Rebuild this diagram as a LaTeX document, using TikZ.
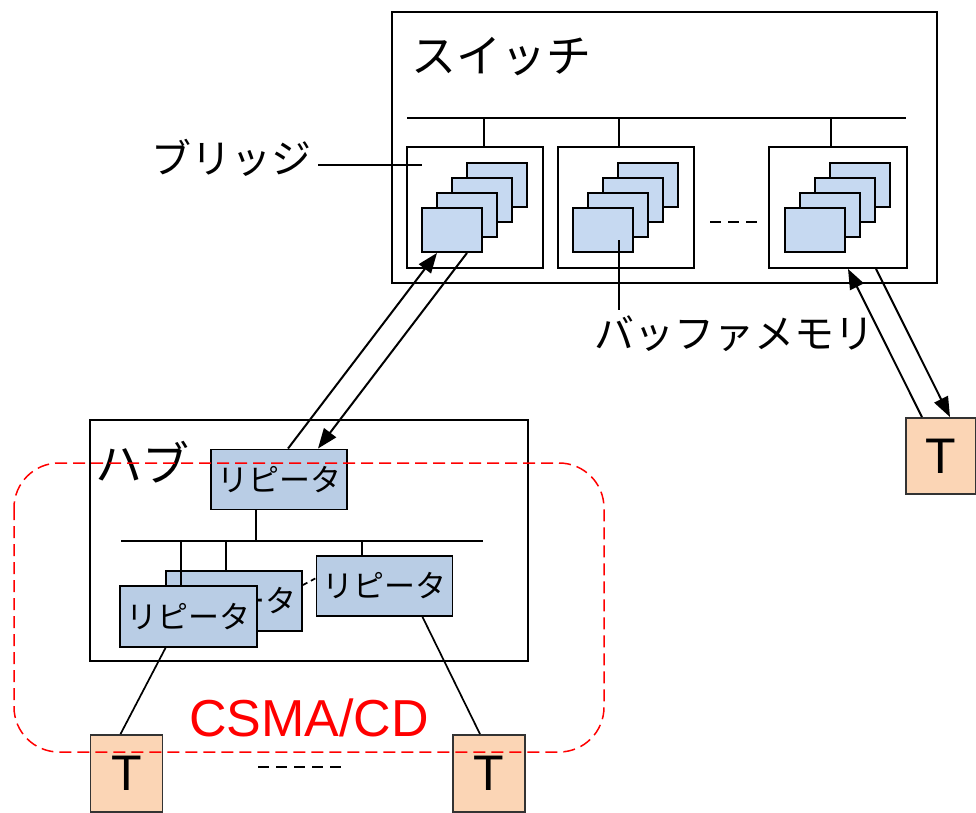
\documentclass[tikz,border=0pt]{standalone}
\usepackage{fontspec}
\setmainfont{Liberation Sans}
\newfontfamily\jp{Noto Sans CJK JP}
\usetikzlibrary{arrows.meta}
\definecolor{bufblue}{HTML}{C6D9F1}
\definecolor{repblue}{HTML}{B9CDE5}
\definecolor{termfill}{HTML}{FBD5B5}
\tikzset{
  frame/.style={draw=black, line width=1.9pt, fill=white, inner sep=0pt},
  bufbox/.style={draw=black, line width=1.9pt, fill=bufblue, inner sep=0pt, minimum width=60pt, minimum height=44pt},
  repbox/.style={draw=black, line width=1.9pt, fill=repblue, inner sep=0pt, minimum width=136pt, minimum height=60pt, font=\jp\fontsize{31}{31}\selectfont},
  termbox/.style={draw=black!80, line width=1.9pt, fill=termfill, inner sep=0pt, minimum width=72pt, minimum height=77pt, font=\fontsize{50}{50}\selectfont},
  wire/.style={line width=1.7pt},
  arr/.style={line width=2pt, -{Triangle[length=20pt,width=15pt]}},
  dots/.style={line width=1.7pt, dash pattern=on 11pt off 7pt},
  bigjp/.style={font=\jp\fontsize{45}{45}\selectfont, inner sep=0pt},
}
\begin{document}
\begin{tikzpicture}[x=1pt,y=-1pt]
\clip (0,0) rectangle (976,812);
\fill[white] (0,0) rectangle (976,812);

% ---- switch ----
\node[frame, minimum width=545pt, minimum height=271pt] (sw) at (664.5,147.5) {};
\node[bigjp, anchor=west] (swlabel) at (411,57) {スイッチ};
\coordinate (busL) at (407,118);
\coordinate (busR) at (906,118);
\draw[wire] (busL) -- (busR);

\foreach \n/\cx/\w in {br1/475/136, br2/626/136, br3/838/138}{
  \node[frame, minimum width=\w pt, minimum height=121pt] (\n) at (\cx,207.5) {};
}
\draw[wire] ([xshift=9pt]br1.north) -- ++(0,-29);
\draw[wire] ([xshift=-7pt]br2.north) -- ++(0,-29);
\draw[wire] ([xshift=-7pt]br3.north) -- ++(0,-29);

% stacked buffers inside each bridge
\foreach \g/\fx in {A/422, B/573, C/785}{
  \foreach \k in {3,2,1,0}{
    \node[bufbox] (buf\g\k) at ({\fx+30+15*\k},{230-15*\k}) {};
  }
}

% bridge label
\node[bigjp, font=\jp\fontsize{40}{40}\selectfont, anchor=east] (brlabel) at (312,158) {ブリッジ};
\coordinate (brtip) at (422,165);
\draw[wire] (318,165) -- (brtip);

% gap between bridges
\coordinate (gapL) at (710,222);
\coordinate (gapR) at (757,222);
\draw[dots] (gapL) -- (gapR);

% buffer memory label
\node[bigjp, font=\jp\fontsize{40}{40}\selectfont, anchor=north west] (memlabel) at (594,316) {バッファメモリ};
\draw[wire] (619,240) -- (619,310);

% ---- hub ----
\node[frame, minimum width=438pt, minimum height=241pt] (hub) at (309,540.5) {};
\node[bigjp, font=\jp\fontsize{47}{47}\selectfont, anchor=west] (hublabel) at (95,462) {ハブ};
\node[repbox] (rep0) at (279,479.5) {リピータ};
\coordinate (hbusL) at (121,541);
\coordinate (hbusR) at (483,541);
\draw[wire] (hbusL) -- (hbusR);
\draw[wire] ([xshift=-23pt]rep0.south) -- (256,541);

\node[repbox] (rep2) at (234,601) {リピータ};
\draw[wire] (226,541) -- (226,571);
\draw[wire] (181,541) -- (181,590);
\node[repbox] (rep3) at (384.5,586) {リピータ};
\draw[wire] (362,541) -- (rep3.north -| 362,0);
\draw[wire, dash pattern=on 5pt off 4pt] (rep2.east |- 0,585) -- (318,577);
\node[repbox, minimum width=137pt, minimum height=61pt] (rep1) at (188.5,616.5) {リピータ};

% ---- terminals ----
\node[termbox] (tL) at (126.5,773.5) {T};
\node[termbox] (tM) at (489,773.5) {T};
\node[termbox, minimum width=70pt, minimum height=76pt] (tR) at (941,456) {T};

\draw[wire] ([xshift=-23pt]rep1.south) -- ([xshift=-6pt]tL.north);
\draw[wire] ([xshift=38pt]rep3.south) -- ([xshift=-9pt]tM.north);

\coordinate (tdotsL) at (258,767);
\coordinate (tdotsR) at (347,767);
\draw[dots] (tdotsL) -- (tdotsR);

% ---- links ----
\draw[arr] ([xshift=9pt]rep0.north) -- ([xshift=-15pt]bufA0.south);
\draw[arr] ([xshift=15pt]bufA0.south) -- ([xshift=39pt]rep0.north);
\draw[arr] ([xshift=-19pt]tR.north) -- ([xshift=10pt]br3.south);
\draw[arr] ([xshift=38pt]br3.south) -- ([xshift=9pt]tR.north);

% ---- collision domain ----
\draw[red, line width=1.5pt, dash pattern=on 12pt off 6pt, rounded corners=45pt] (14,463) rectangle (604,752);
\node[text=red, font=\fontsize{52}{52}\selectfont, inner sep=0pt] (csma) at (309,718) {CSMA/CD};
\end{tikzpicture}
\end{document}
